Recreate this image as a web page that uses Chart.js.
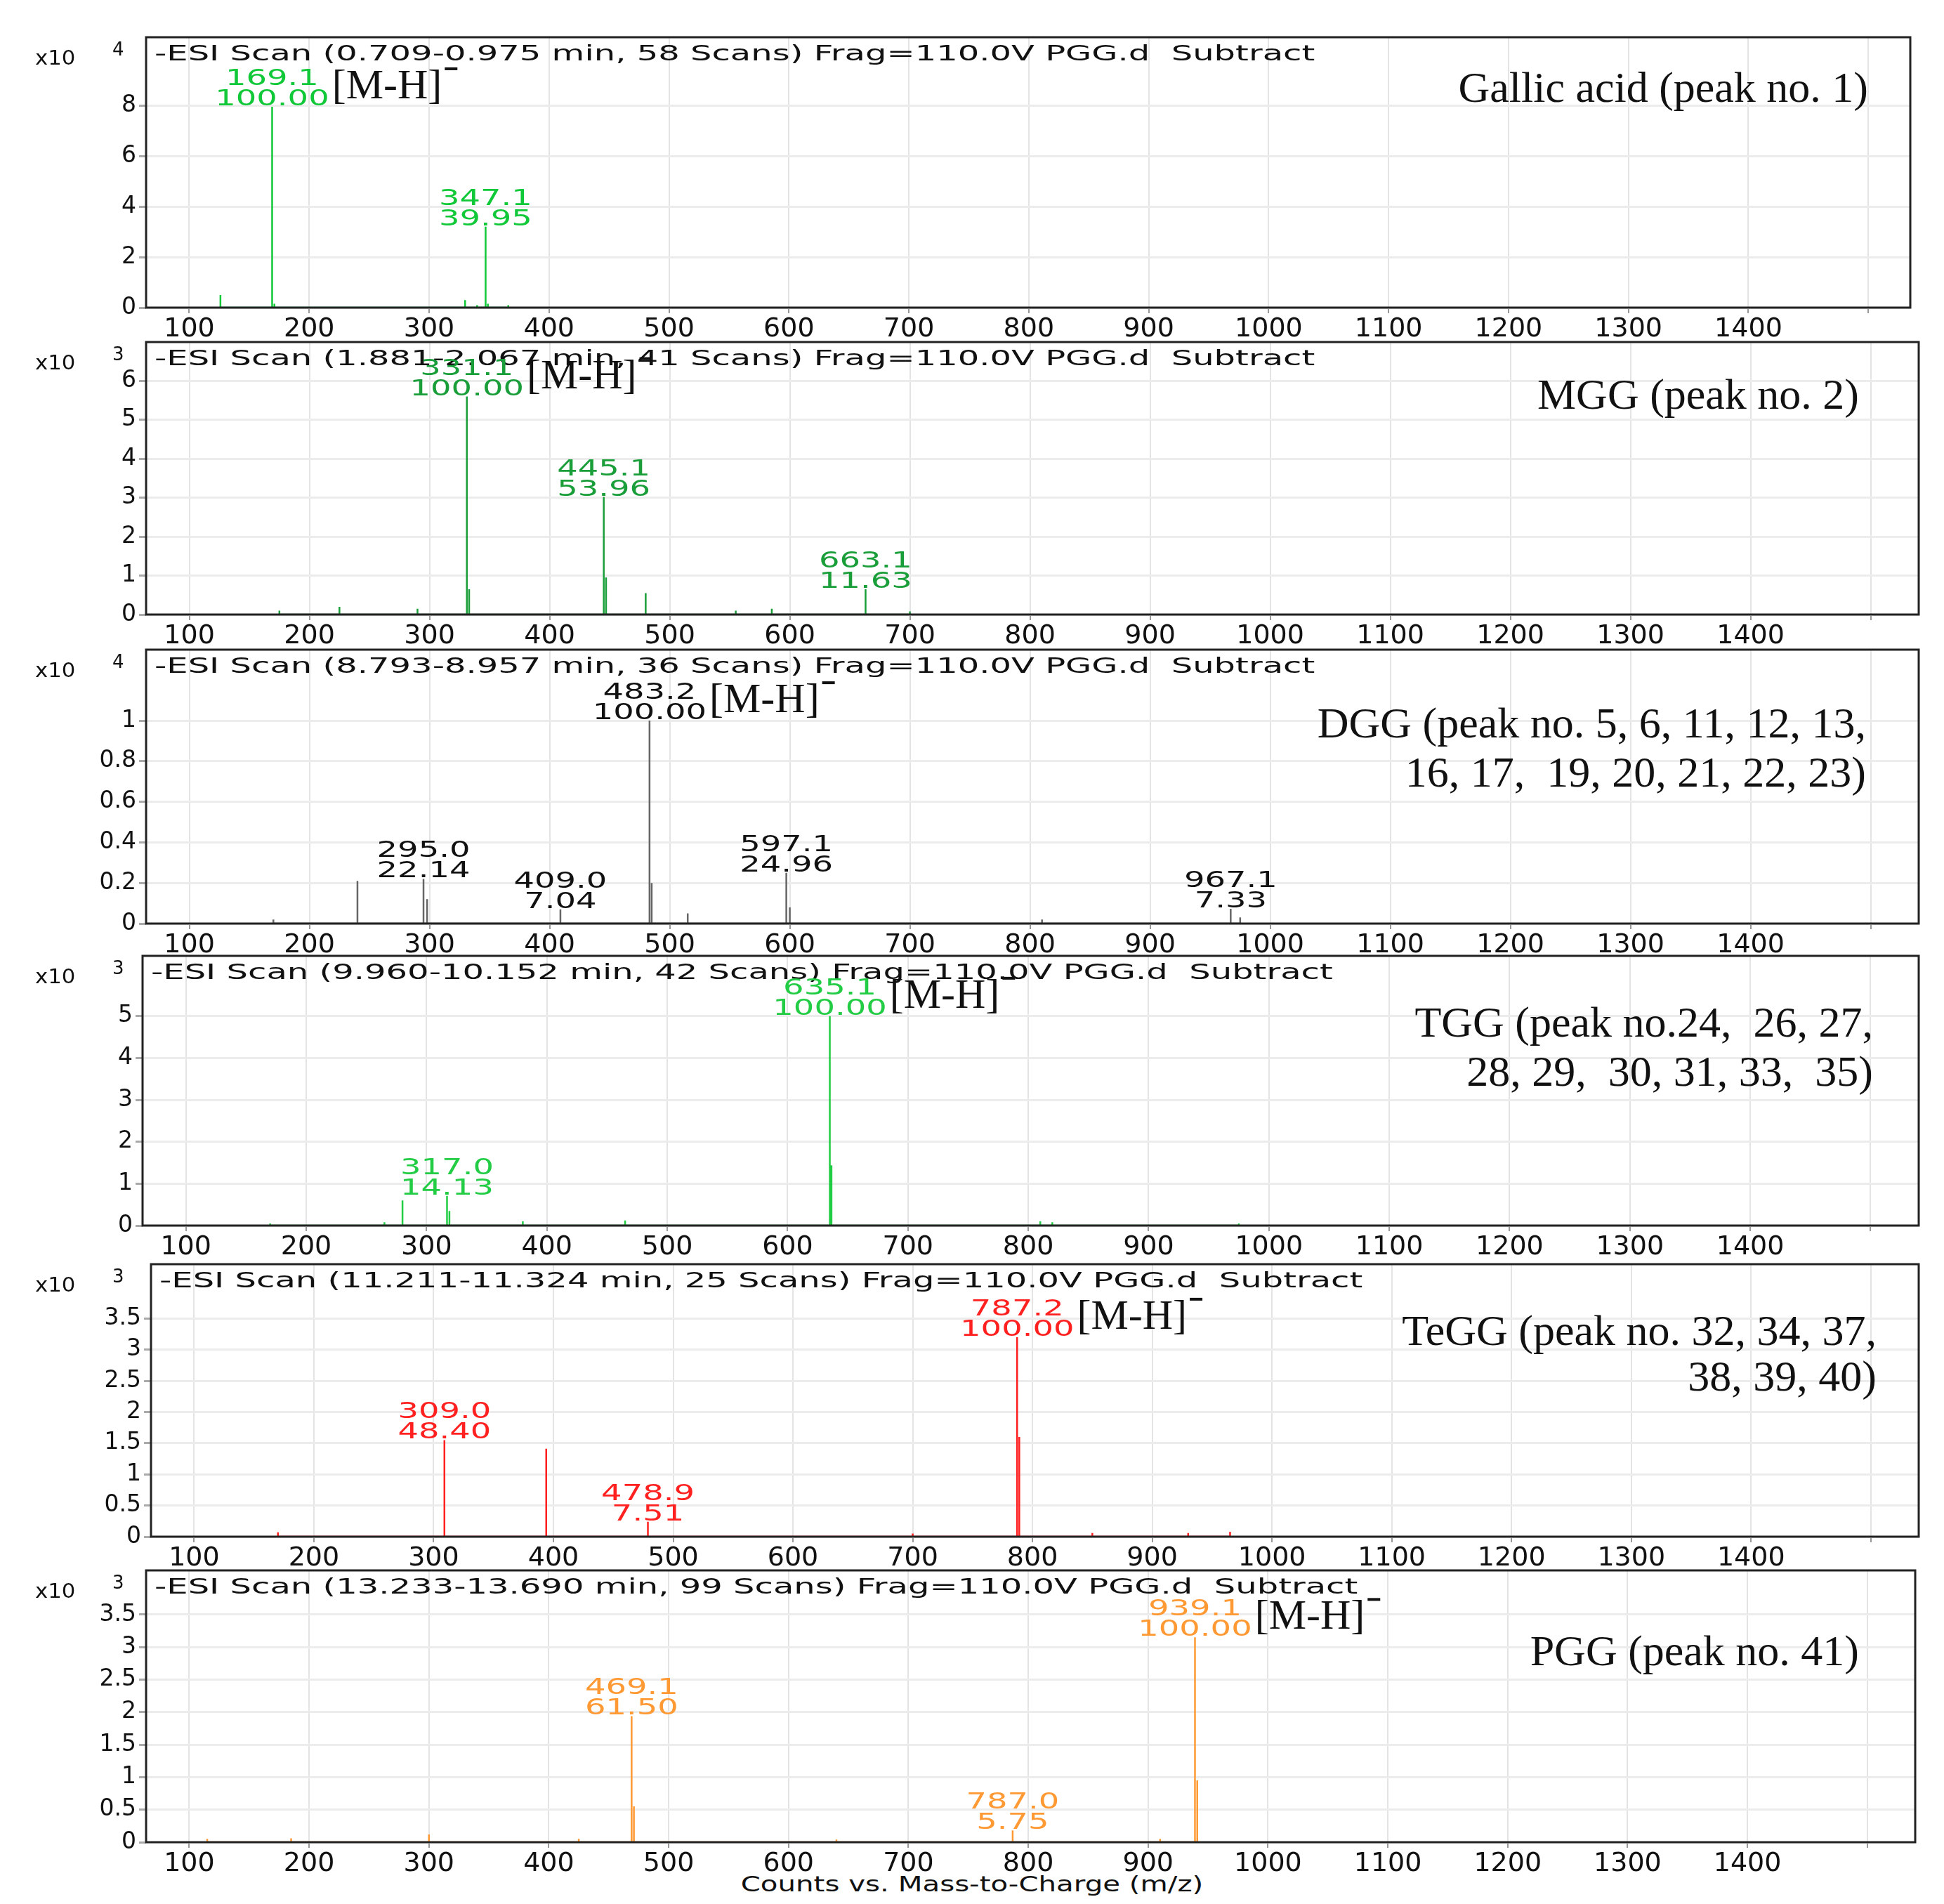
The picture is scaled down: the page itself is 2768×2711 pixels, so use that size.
<!DOCTYPE html>
<html><head><meta charset="utf-8">
<script src="https://cdn.jsdelivr.net/npm/chart.js@4"></script>
<style>body{margin:0;background:#fff;width:2768px;height:2711px;position:relative;overflow:hidden;font-family:Arial,"Liberation Sans",sans-serif}
canvas{position:absolute}
#xl{position:absolute;left:0;width:2768px;top:2664px;text-align:center;font:31px "DejaVu Sans",sans-serif;color:#111;transform:scaleX(1.3)}</style>
</head><body>
<div id="xl">Counts vs. Mass-to-Charge (m/z)</div>
<script>
const xTicks=[100,200,300,400,500,600,700,800,900,1000,1100,1200,1300,1400];
const xGrid=[100,200,300,400,500,600,700,800,900,1000,1100,1200,1300,1400,1500];
// Panel 1: Gallic acid (x10^4)
const mz1=[126,169.1,171,330,340,347.1,349,366];
const h1=[0.5,7.95,0.15,0.3,0.1,3.2,0.15,0.1];
const yT1=[0,2,4,6,8];
// Panel 2: MGG (x10^3)
const mz2=[175,225,290,331.1,333,445.1,447,480,555,585,663.1,700];
const h2=[0.1,0.2,0.15,5.6,0.65,3.02,0.95,0.55,0.1,0.15,0.65,0.08];
const yT2=[0,1,2,3,4,5,6];
// Panel 3: DGG (x10^4)
const mz3=[170,240,295.0,298,409.0,483.2,485,515,597.1,600,810,967.1,975];
const h3=[0.02,0.21,0.22,0.12,0.07,1.0,0.2,0.05,0.25,0.08,0.02,0.073,0.03];
const yT3=[0,0.2,0.4,0.6,0.8,1];
// Panel 4: TGG (x10^3)
const mz4=[170,265,280,317.0,319,380,465,635.1,636.5,810,820,975];
const h4=[0.05,0.08,0.6,0.71,0.35,0.1,0.12,5.0,1.44,0.1,0.08,0.05];
const yT4=[0,1,2,3,4,5];
// Panel 5: TeGG (x10^3)
const mz5=[170,309.0,394,478.9,700,787.2,789,850,930,965];
const h5=[0.07,1.55,1.41,0.24,0.05,3.2,1.6,0.06,0.06,0.08];
const yT5=[0,0.5,1,1.5,2,2.5,3,3.5];
// Panel 6: PGG (x10^3)
const mz6=[115,185,300,425,469.1,471,640,787.0,910,939.1,941];
const h6=[0.05,0.06,0.12,0.05,1.94,0.55,0.04,0.18,0.05,3.15,0.95];
const yT6=[0,0.5,1,1.5,2,2.5,3,3.5];

const panels=[
 {mz:mz1,h:h1,yt:yT1,ymax:10.7,xmin:64,xmax:1535,exp:'4',col:'#10c838',lc:'#10c838',
  box:[208,2720,53,438],title:'-ESI Scan (0.709-0.975 min, 58 Scans) Frag=110.0V PGG.d  Subtract',
  labels:[[169.1,'169.1','100.00',true],[347.1,'347.1','39.95']],name:['Gallic acid (peak no. 1)'],nameY:[92],nameR:60},
 {mz:mz2,h:h2,yt:yT2,ymax:7.0,xmin:64,xmax:1540,exp:'3',col:'#1a9e3a',lc:'#1a9e3a',
  box:[208,2732,487,875],title:'-ESI Scan (1.881-2.067 min, 41 Scans) Frag=110.0V PGG.d  Subtract',
  labels:[[331.1,'331.1','100.00',true],[445.1,'445.1','53.96'],[663.1,'663.1','11.63']],name:['MGG (peak no. 2)'],nameY:[95],nameR:85},
 {mz:mz3,h:h3,yt:yT3,ymax:1.35,xmin:64,xmax:1540,exp:'4',col:'#666',lc:'#111',
  box:[208,2732,925,1315],title:'-ESI Scan (8.793-8.957 min, 36 Scans) Frag=110.0V PGG.d  Subtract',
  labels:[[483.2,'483.2','100.00',true],[295.0,'295.0','22.14'],[409.0,'409.0','7.04'],[597.1,'597.1','24.96'],[967.1,'967.1','7.33']],
  name:['DGG (peak no. 5, 6, 11, 12, 13,','16, 17,  19, 20, 21, 22, 23)'],nameY:[125,195],nameR:75},
 {mz:mz4,h:h4,yt:yT4,ymax:6.44,xmin:64,xmax:1540,exp:'3',col:'#22cc44',lc:'#22cc44',
  box:[203,2732,1361,1745],title:'-ESI Scan (9.960-10.152 min, 42 Scans) Frag=110.0V PGG.d  Subtract',
  labels:[[635.1,'635.1','100.00',true],[317.0,'317.0','14.13']],
  name:['TGG (peak no.24,  26, 27,','28, 29,  30, 31, 33,  35)'],nameY:[115,185],nameR:65},
 {mz:mz5,h:h5,yt:yT5,ymax:4.37,xmin:64,xmax:1540,exp:'3',col:'#ff2020',lc:'#ff2020',
  box:[215,2732,1800,2188],title:'-ESI Scan (11.211-11.324 min, 25 Scans) Frag=110.0V PGG.d  Subtract',
  labels:[[787.2,'787.2','100.00',true],[309.0,'309.0','48.40'],[478.9,'478.9','7.51']],
  name:['TeGG (peak no. 32, 34, 37,','38, 39, 40)'],nameY:[115,180],nameR:60},
 {mz:mz6,h:h6,yt:yT6,ymax:4.18,xmin:64,xmax:1540,exp:'3',col:'#ff9933',lc:'#ff9933',
  box:[208,2727,2236,2623],title:'-ESI Scan (13.233-13.690 min, 99 Scans) Frag=110.0V PGG.d  Subtract',
  labels:[[939.1,'939.1','100.00',true],[469.1,'469.1','61.50'],[787.0,'787.0','5.75']],name:['PGG (peak no. 41)'],nameY:[135],nameR:80}
];

function sText(g,t,x,y,sx,align){
  g.save();g.translate(x,y);g.scale(sx,1);g.textAlign=align||'left';g.fillText(t,0,0);g.restore();
}
const PT=40;
panels.forEach(p=>{
  const [L,R,T,B]=p.box;
  const cv=document.createElement('canvas');
  const top=T-PT, H=(B-T)+PT+70;
  cv.width=2768;cv.height=H;
  cv.style.left='0px';cv.style.top=top+'px';
  document.body.appendChild(cv);
  const pts=[];
  p.mz.forEach((m,i)=>{pts.push({x:m,y:0},{x:m,y:p.h[i]},{x:m,y:0});});
  const base=[{x:100,y:0},{x:1500,y:0}];
  const deco={id:'deco',afterDraw(c){
    const g=c.ctx,a=c.chartArea,xs=c.scales.x,ys=c.scales.y;
    g.save();
    g.strokeStyle='#222';g.lineWidth=3;g.strokeRect(a.left,a.top,a.right-a.left,a.bottom-a.top);
    g.fillStyle='#111';g.font='30px "DejaVu Sans",sans-serif';g.textBaseline='top';
    sText(g,p.title,a.left+12,a.top+10,1.6);
    g.font='28px "DejaVu Sans",sans-serif';sText(g,'x10',50,a.top+18,1.1);
    g.font='26px "DejaVu Sans",sans-serif';sText(g,p.exp,160,a.top+6,1);
    g.textBaseline='alphabetic';
    p.labels.forEach(l=>{
      const idx=p.mz.indexOf(l[0]);
      const x=xs.getPixelForValue(l[0]),y=ys.getPixelForValue(p.h[idx]);
      g.fillStyle=p.lc;g.font='32px "DejaVu Sans",sans-serif';
      sText(g,l[2],x,y-2,1.45,'center');sText(g,l[1],x,y-31,1.45,'center');
      if(l[3]){
        const w=g.measureText(l[2]).width*1.45;
        g.fillStyle='#111';g.textAlign='left';g.font='60px "Liberation Serif","Times New Roman",serif';
        g.fillText('[M-H]',x+w/2+4,y-12);
        const mw=g.measureText('[M-H]').width;
        g.fillRect(x+w/2+8+mw,y-56,18,4);
      }
    });
    g.fillStyle='#111';g.textAlign='right';g.font='62px "Liberation Serif","Times New Roman",serif';
    p.name.forEach((n,i)=>g.fillText(n,a.right-p.nameR,a.top+p.nameY[i]));
    g.restore();
  }};
  new Chart(cv,{type:'scatter',
    data:{datasets:[
      {data:base,showLine:true,borderColor:p.col,borderWidth:2,pointRadius:0},
      {data:pts,showLine:true,borderColor:p.col,borderWidth:2.5,pointRadius:0,tension:0}]},
    options:{responsive:false,animation:false,devicePixelRatio:1,
      layout:{padding:{left:0,right:2768-R,top:PT,bottom:0}},
      plugins:{legend:{display:false},tooltip:{enabled:false}},
      scales:{
        x:{type:'linear',min:p.xmin,max:p.xmax,
          afterBuildTicks:s=>{s.ticks=xGrid.map(v=>({value:v}));},
          afterFit:s=>{s.height=70;},
          grid:{color:'#e4e4e4',lineWidth:2,drawTicks:true,tickLength:8,tickColor:'#999'},border:{display:false},
          ticks:{color:'#111',font:{size:38,family:'"DejaVu Sans",sans-serif'},padding:0,maxRotation:0,autoSkip:false,
            callback:v=>xTicks.includes(v)?String(v):''}},
        y:{min:0,max:p.ymax,
          afterBuildTicks:s=>{s.ticks=p.yt.map(v=>({value:v}));},
          afterFit:s=>{s.width=L;},
          grid:{color:'#ececec',lineWidth:3,drawTicks:true,tickLength:10,tickColor:'#aaa'},border:{display:false},
          ticks:{color:'#111',font:{size:33,family:'"DejaVu Sans",sans-serif'},padding:4,autoSkip:false,callback:v=>String(v)}}
      }},
    plugins:[deco]});
});
</script>
</body></html>
